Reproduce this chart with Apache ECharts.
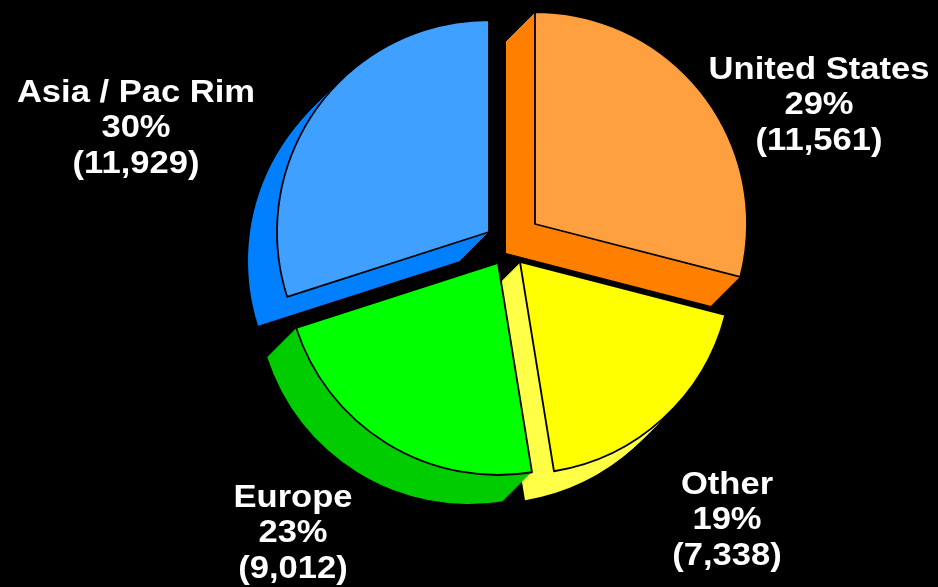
<!DOCTYPE html>
<html>
<head>
<meta charset="utf-8">
<script src="https://cdn.jsdelivr.net/npm/echarts@6/dist/echarts.min.js"></script>
<style>
  html, body { margin: 0; padding: 0; background: #000; }
  #chart { width: 938px; height: 587px; }
</style>
</head>
<body>
<div id="chart"></div>
<script>
// Revenue by region, clockwise from 12 o'clock
const regions = ['United States', 'Other', 'Europe', 'Asia / Pac Rim'];
const revenue = [11561, 7338, 9012, 11929];
const shareLabels = ['29%', '19%', '23%', '30%'];

// Styling / layout
const topColors = ['#ffa040', '#ffff00', '#00ff00', '#40a0ff'];
const sideColors = ['#ff8000', '#ffff48', '#00cc00', '#0080ff'];
const sliceCenters = [[535, 224], [520, 262], [498, 263], [489, 232]]; // exploded apex of each wedge
const RADIUS = 212;
const DEPTH = 29;            // extrusion toward the lower left, px
const labelAnchors = [[819, 70], [727, 485], [293, 498], [136, 93]];
const LINE_GAP = 35.5;
const LABEL_FONT = 'bold 32px "Liberation Sans", Arial, Helvetica, sans-serif';

// One pie series that shows only wedge `idx`, shifted by (dx, dy)
function wedgeSeries(idx, dx, dy, color, outlined) {
  return {
    type: 'pie',
    silent: true,
    animation: false,
    startAngle: 90,
    clockwise: true,
    center: [sliceCenters[idx][0] + dx, sliceCenters[idx][1] + dy],
    radius: RADIUS,
    label: { show: false },
    labelLine: { show: false },
    emphasis: { disabled: true },
    data: revenue.map((v, i) => ({
      name: regions[i],
      value: v,
      itemStyle: i === idx
        ? { color: color, borderColor: '#000', borderWidth: outlined ? 1.8 : 0 }
        : { color: 'rgba(0,0,0,0)', borderWidth: 0 }
    }))
  };
}

const series = [];
// side walls: stacked copies from the back plane to the front
for (let i = 0; i < regions.length; i++) {
  for (let k = DEPTH; k >= 1; k--) {
    series.push(wedgeSeries(i, -k, k, sideColors[i], false));
  }
}
// front faces
for (let i = 0; i < regions.length; i++) {
  series.push(wedgeSeries(i, 0, 0, topColors[i], true));
}

// Three-line labels: region, share, value
const graphic = [];
regions.forEach((name, i) => {
  const lines = [name, shareLabels[i], '(' + revenue[i].toLocaleString('en-US') + ')'];
  lines.forEach((txt, j) => {
    graphic.push({
      type: 'text',
      x: labelAnchors[i][0],
      y: labelAnchors[i][1] + j * LINE_GAP,
      scaleX: 1.08,
      silent: true,
      style: {
        text: txt,
        fill: '#ffffff',
        font: LABEL_FONT,
        align: 'center',
        verticalAlign: 'middle'
      }
    });
  });
});

const chart = echarts.init(document.getElementById('chart'), null, { renderer: 'canvas' });
chart.setOption({
  backgroundColor: '#000000',
  animation: false,
  series: series,
  graphic: graphic
});
</script>
</body>
</html>
